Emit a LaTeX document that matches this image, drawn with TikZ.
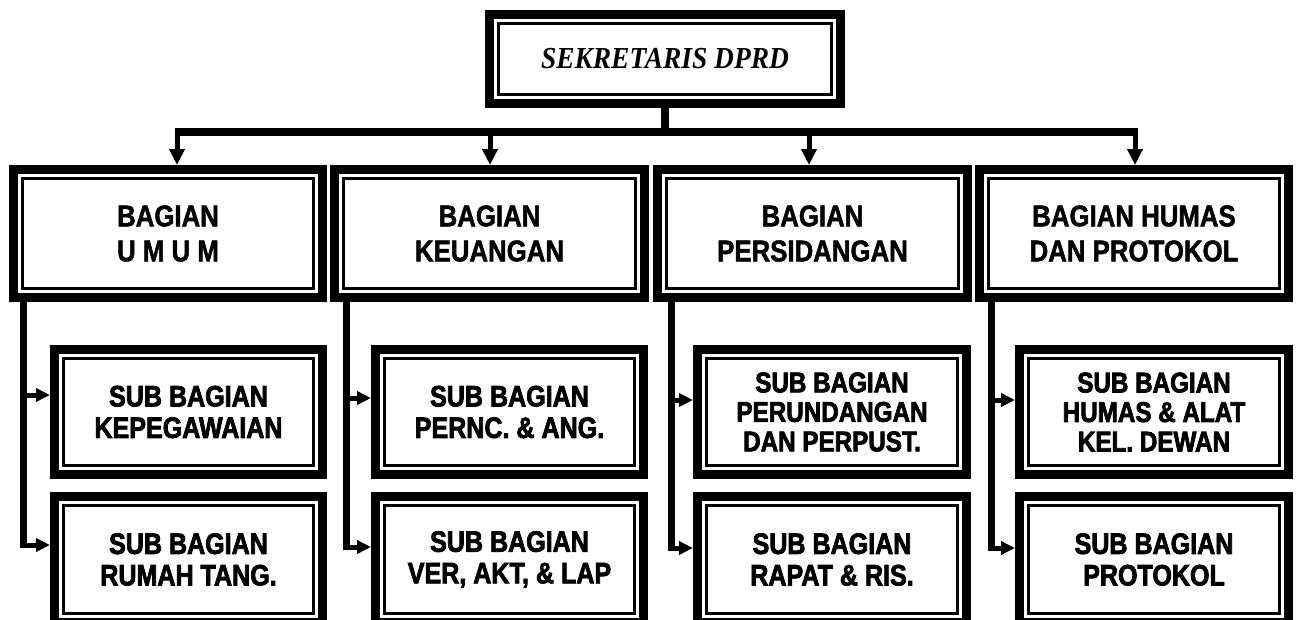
\documentclass[tikz,border=0pt]{standalone}
\usepackage{fontspec}
\setmainfont{Liberation Serif}
\newfontfamily\topfont{Liberation Serif}[FakeStretch=0.9]
\newfontfamily\bagfont{Liberation Sans}[FakeStretch=0.86,BoldFeatures={FakeBold=1.5}]
\newfontfamily\subfont{Liberation Sans}[FakeStretch=0.85,BoldFeatures={FakeBold=2.5}]
\usetikzlibrary{arrows.meta,calc}

\tikzset{
  frame/.style={draw=black, line width=9pt, inner sep=0pt, outer sep=4.5pt, align=center},
  innerline/.style={draw=black, line width=3pt},
  stem/.style={draw=black, line width=8pt, line cap=butt},
  darrow/.style={draw=black, line width=5pt, -{Triangle[width=15pt,length=16pt]}},
  vline/.style={draw=black, line width=7pt, line cap=butt},
  harrow/.style={draw=black, line width=5pt, -{Triangle[width=13pt,length=14pt]}},
  topfnt/.style={font=\topfont\bfseries\itshape\fontsize{30.5}{34}\selectfont},
  bagfnt/.style={font=\bagfont\bfseries\fontsize{30}{35}\selectfont},
  subfnt/.style={font=\subfont\bfseries\fontsize{29.5}{31.5}\selectfont},
  subfntsmall/.style={font=\subfont\bfseries\fontsize{28.5}{29.5}\selectfont},
}

% name, x1, y1, x2, y2, style, text
\newcommand{\orgbox}[7]{%
  \node[frame, #6, minimum width={#4-#2-9}, minimum height={#5-#3-9}] (#1) at ({(#2+#4)/2},{(#3+#5)/2}) {#7};
  \draw[innerline] ([shift={(13.5pt,-13.5pt)}]#1.north west) rectangle ([shift={(-13.5pt,13.5pt)}]#1.south east);
}

\begin{document}
\begin{tikzpicture}[x=1pt,y=-1pt]
\clip (0,0) rectangle (1298,619);
\fill[white] (0,0) rectangle (1298,619);

% top
\orgbox{top}{485}{10}{845}{108}{topfnt}{SEKRETARIS DPRD}

% bagian
\orgbox{b1}{9}{165}{327}{302}{bagfnt}{BAGIAN\\U M U M}
\orgbox{b2}{330}{165}{649}{302}{bagfnt}{BAGIAN\\KEUANGAN}
\orgbox{b3}{653}{165}{972}{302}{bagfnt}{BAGIAN\\PERSIDANGAN}
\orgbox{b4}{975}{165}{1293}{302}{bagfnt}{BAGIAN HUMAS\\DAN PROTOKOL}

% sub bagian
\orgbox{s11}{50}{345}{327}{479}{subfnt}{SUB BAGIAN\\KEPEGAWAIAN}
\orgbox{s12}{50}{492}{327}{627}{subfnt}{SUB BAGIAN\\RUMAH TANG.}
\orgbox{s21}{371}{345}{648}{479}{subfnt}{SUB BAGIAN\\PERNC. \& ANG.}
\orgbox{s22}{371}{492}{648}{627}{subfnt}{SUB BAGIAN\\VER, AKT, \& LAP}
\orgbox{s31}{693}{345}{971}{479}{subfntsmall}{SUB BAGIAN\\PERUNDANGAN\\DAN PERPUST.}
\orgbox{s32}{693}{492}{971}{627}{subfnt}{SUB BAGIAN\\RAPAT \& RIS.}
\orgbox{s41}{1015}{345}{1293}{479}{subfntsmall}{SUB BAGIAN\\HUMAS \& ALAT\\KEL. DEWAN}
\orgbox{s42}{1015}{492}{1293}{627}{subfnt}{SUB BAGIAN\\PROTOKOL}

% top connectors
\coordinate (a1) at (177,132);
\coordinate (a2) at (490,132);
\coordinate (a3) at (809,132);
\coordinate (a4) at (1135,132);
\draw[stem] (top.south) -- (top.south |- a1);
\draw[stem] ([xshift=-2.5pt]a1) -- ([xshift=2.5pt]a4);
\draw[darrow] (a1) -- (a1 |- b1.north);
\draw[darrow] (a2) -- (a2 |- b2.north);
\draw[darrow] (a3) -- (a3 |- b3.north);
\draw[darrow] (a4) -- (a4 |- b4.north);

% sub connectors
\coordinate (v1a) at (23.5,395);  \coordinate (v1b) at (23.5,545);
\coordinate (v2a) at (346.5,398); \coordinate (v2b) at (346.5,547);
\coordinate (v3a) at (671.5,400); \coordinate (v3b) at (671.5,548);
\coordinate (v4a) at (991.5,400); \coordinate (v4b) at (991.5,548);

\draw[vline] (v1a |- b1.south) -- ([yshift=-2.5pt]v1b);
\draw[vline] (v2a |- b2.south) -- ([yshift=-2.5pt]v2b);
\draw[vline] (v3a |- b3.south) -- ([yshift=-2.5pt]v3b);
\draw[vline] (v4a |- b4.south) -- ([yshift=-2.5pt]v4b);

\draw[harrow] ([xshift=-3.5pt]v1a) -- (v1a -| s11.west);
\draw[harrow] ([xshift=-3.5pt]v1b) -- (v1b -| s12.west);
\draw[harrow] ([xshift=-3.5pt]v2a) -- (v2a -| s21.west);
\draw[harrow] ([xshift=-3.5pt]v2b) -- (v2b -| s22.west);
\draw[harrow] ([xshift=-3.5pt]v3a) -- (v3a -| s31.west);
\draw[harrow] ([xshift=-3.5pt]v3b) -- (v3b -| s32.west);
\draw[harrow] ([xshift=-3.5pt]v4a) -- (v4a -| s41.west);
\draw[harrow] ([xshift=-3.5pt]v4b) -- (v4b -| s42.west);
\end{tikzpicture}
\end{document}
